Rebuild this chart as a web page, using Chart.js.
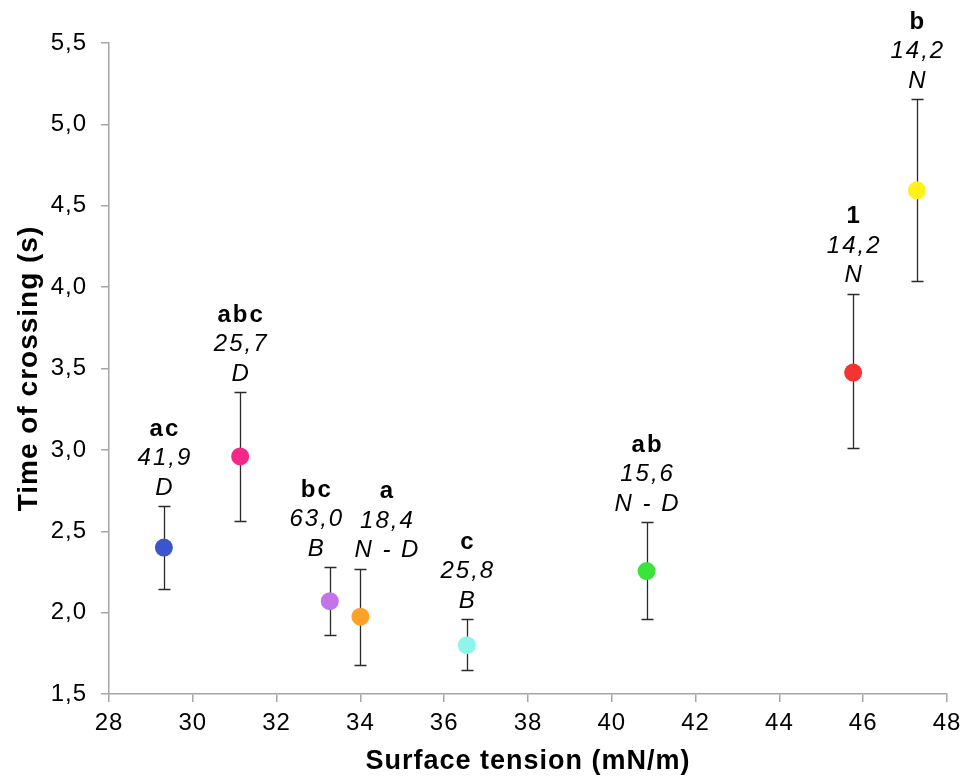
<!DOCTYPE html>
<html>
<head>
<meta charset="utf-8">
<title>Time of crossing vs surface tension</title>
<script src="https://cdn.jsdelivr.net/npm/chart.js@4.4.1/dist/chart.umd.min.js"></script>
<style>
    html, body { margin: 0; padding: 0; background: #ffffff; }
    #wrap { width: 964px; height: 778px; }
</style>
</head>
<body>
<div id="wrap"><canvas id="chart" width="964" height="778"></canvas></div>
<script>
// Data
const surfaceTension = [29.31, 31.13, 33.27, 34.0, 36.54, 40.83, 45.76, 47.28];
const crossingTime   = [2.40, 2.96, 2.07, 1.975, 1.80, 2.255, 3.475, 4.595];
const errLow         = [2.145, 2.56, 1.86, 1.68, 1.645, 1.96, 3.01, 4.035];
const errHigh        = [2.655, 3.355, 2.28, 2.27, 1.96, 2.555, 3.96, 5.155];
const groupLetters   = ['ac', 'abc', 'bc', 'a', 'c', 'ab', '1', 'b'];
const valueLabels    = ['41,9', '25,7', '63,0', '18,4', '25,8', '15,6', '14,2', '14,2'];
const typeLabels     = ['D', 'D', 'B', 'N - D', 'B', 'N - D', 'N', 'N'];
const xTicks = [28, 30, 32, 34, 36, 38, 40, 42, 44, 46, 48];
const yTicks = [1.5, 2.0, 2.5, 3.0, 3.5, 4.0, 4.5, 5.0, 5.5];

// Styles
const pointColors = ['#3b55cc', '#f5288a', '#c473ea', '#fca22a', '#8ff5ea', '#3be43b', '#f53333', '#fff21a'];
const labelShift  = [0, 0, -14, 26, 0, 0, 0, 0];
const AXIS_GREY = '#a6a6a6';
const FONT = "'Liberation Sans', Arial, sans-serif";

// Slightly wider text, like the original figure
const spacing = {
    id: 'spacing',
    beforeDraw(chart) {
        chart.ctx.letterSpacing = '1px';
    }
};

// Error bars behind the points
const errorBars = {
    id: 'errorBars',
    beforeDatasetsDraw(chart) {
        const { ctx, scales: { x, y } } = chart;
        ctx.save();
        ctx.strokeStyle = '#2a2a2a';
        ctx.lineWidth = 1.3;
        surfaceTension.forEach((t, i) => {
            const px = Math.round(x.getPixelForValue(t)) + 0.5;
            const top = Math.round(y.getPixelForValue(errHigh[i])) + 0.5;
            const bot = Math.round(y.getPixelForValue(errLow[i])) + 0.5;
            ctx.beginPath();
            ctx.moveTo(px, top); ctx.lineTo(px, bot);
            ctx.moveTo(px - 6, top); ctx.lineTo(px + 6, top);
            ctx.moveTo(px - 6, bot); ctx.lineTo(px + 6, bot);
            ctx.stroke();
        });
        ctx.restore();
    }
};

// Three-line annotations above each bar
const pointLabels = {
    id: 'pointLabels',
    afterDatasetsDraw(chart) {
        const { ctx, scales: { x, y } } = chart;
        const lh = 29.5;
        ctx.save();
        ctx.fillStyle = '#000000';
        ctx.textAlign = 'center';
        ctx.textBaseline = 'middle';
        ctx.letterSpacing = '2px';
        surfaceTension.forEach((t, i) => {
            const px = x.getPixelForValue(t) + labelShift[i] + 1;
            const base = y.getPixelForValue(errHigh[i]) - 18;
            ctx.font = `italic 24px ${FONT}`;
            ctx.fillText(typeLabels[i], px, base);
            ctx.fillText(valueLabels[i], px, base - lh);
            ctx.font = `bold 24px ${FONT}`;
            ctx.fillText(groupLetters[i], px, base - 2 * lh);
        });
        ctx.restore();
    }
};

new Chart(document.getElementById('chart'), {
    type: 'scatter',
    data: {
        datasets: [{
            data: surfaceTension.map((t, i) => ({ x: t, y: crossingTime[i] })),
            pointBackgroundColor: pointColors,
            pointBorderWidth: 0,
            pointRadius: 9,
            pointHoverRadius: 9
        }]
    },
    options: {
        responsive: false,
        animation: false,
        events: [],
        layout: { padding: { top: 43, right: 17, left: 0, bottom: 0 } },
        plugins: {
            legend: { display: false },
            tooltip: { enabled: false }
        },
        scales: {
            x: {
                type: 'linear',
                min: 28,
                max: 48,
                afterBuildTicks: (scale) => { scale.ticks = xTicks.map(v => ({ value: v })); },
                afterFit: (scale) => {
                    scale.height = 84;
                    scale.paddingLeft = 0;
                    scale.paddingRight = 0;
                },
                border: { display: true, color: AXIS_GREY, width: 1.5 },
                grid: { drawOnChartArea: false, drawTicks: true, tickLength: 8, color: AXIS_GREY, lineWidth: 1.5 },
                ticks: { color: '#000000', font: { family: FONT, size: 24 }, padding: 7, maxRotation: 0 },
                title: {
                    display: true,
                    text: 'Surface tension (mN/m)',
                    color: '#000000',
                    font: { family: FONT, size: 27, weight: 'bold' },
                    padding: { top: 4, bottom: 0 }
                }
            },
            y: {
                type: 'linear',
                min: 1.5,
                max: 5.5,
                afterBuildTicks: (scale) => { scale.ticks = yTicks.map(v => ({ value: v })); },
                afterFit: (scale) => {
                    scale.width = 109;
                    scale.paddingTop = 0;
                    scale.paddingBottom = 0;
                },
                border: { display: true, color: AXIS_GREY, width: 1.5 },
                grid: { drawOnChartArea: false, drawTicks: true, tickLength: 8, color: AXIS_GREY, lineWidth: 1.5 },
                ticks: {
                    color: '#000000',
                    font: { family: FONT, size: 24 },
                    padding: 14,
                    callback: (v) => v.toFixed(1).replace('.', ',')
                },
                title: {
                    display: true,
                    text: 'Time of crossing (s)',
                    color: '#000000',
                    font: { family: FONT, size: 28, weight: 'bold' },
                    padding: { top: 12, bottom: 0 }
                }
            }
        }
    },
    plugins: [spacing, errorBars, pointLabels]
});
</script>
</body>
</html>
